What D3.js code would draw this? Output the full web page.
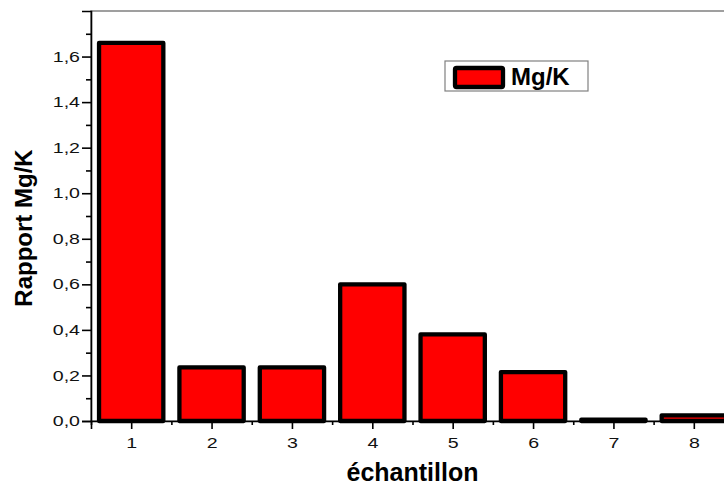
<!DOCTYPE html>
<html>
<head>
<meta charset="utf-8">
<script src="https://cdn.jsdelivr.net/npm/d3@7"></script>
<style>
  body { margin: 0; background: #fff; }
  svg { display: block; font-family: "Liberation Sans", Arial, sans-serif; }
</style>
</head>
<body>
<svg id="chart" width="724" height="486"></svg>
<script>
const categories = [1, 2, 3, 4, 5, 6, 7, 8]
const values = [1.66, 0.235, 0.235, 0.6, 0.38, 0.215, 0.006, 0.025]
const yMajorTicks = [0, 0.2, 0.4, 0.6, 0.8, 1.0, 1.2, 1.4, 1.6]
const yMinorTicks = [0.1, 0.3, 0.5, 0.7, 0.9, 1.1, 1.3, 1.5, 1.7]
const xMinorTicks = [0.5, 1.5, 2.5, 3.5, 4.5, 5.5, 6.5, 7.5]
const seriesName = "Mg/K"
const xTitle = "échantillon"
const yTitle = "Rapport Mg/K"

const margins = { top: 11, left: 91, bottom: 65 }
const svg = d3.select("#chart")
const height = 486 - margins.top - margins.bottom

let xRange = d3.scaleLinear()
    .domain([0.5, 8.5])
    .range([margins.left, margins.left + 643])
let yRange = d3.scaleLinear()
    .domain([0, 1.8])
    .range([margins.top + height, margins.top])

const barWidth = 0.8
const commaFormat = d => d3.format(".1f")(d).replace(".", ",")
// the tick labels of the original are drawn a bit wide
const STRETCH = 1.35

// frame (top and right) in grey
svg.append("rect")
    .attr("x", xRange(0.5))
    .attr("y", yRange(1.8))
    .attr("width", xRange(8.5) - xRange(0.5))
    .attr("height", yRange(0) - yRange(1.8))
    .attr("fill", "none")
    .attr("stroke", "#808080")
    .attr("stroke-width", 1.5)

// bars
svg.selectAll(".bar")
    .data(values)
    .enter()
    .append("rect")
    .attr("class", "bar")
    .attr("x", (d, i) => xRange(categories[i] - barWidth / 2))
    .attr("y", d => yRange(d))
    .attr("width", xRange(barWidth) - xRange(0))
    .attr("height", d => yRange(0) - yRange(d))
    .attr("fill", "#ff0000")
    .attr("stroke", "#000")
    .attr("stroke-width", 4.3)
    .attr("stroke-linejoin", "round")

// y axis
let yAxis = d3.axisLeft(yRange)
    .tickValues(yMajorTicks)
    .tickFormat(commaFormat)
    .tickSize(9)
    .tickPadding(2)
let yAxisMinor = d3.axisLeft(yRange)
    .tickValues(yMinorTicks)
    .tickFormat("")
    .tickSize(5)

svg.append("g")
    .attr("transform", "translate(" + margins.left + ",0)")
    .call(yAxisMinor)
    .call(g => g.select(".domain").remove())
svg.append("g")
    .attr("class", "y_axis")
    .attr("transform", "translate(" + margins.left + ",0)")
    .call(yAxis)
    .attr("font-size", 14.5)
    .attr("font-family", "Liberation Sans, Arial, sans-serif")

// x axis
let xAxis = d3.axisBottom(xRange)
    .tickValues(categories)
    .tickFormat(d => d)
    .tickSize(8)
    .tickPadding(9)
let xAxisMinor = d3.axisBottom(xRange)
    .tickValues(xMinorTicks)
    .tickFormat("")
    .tickSize(4)

svg.append("g")
    .attr("transform", "translate(0," + yRange(0) + ")")
    .call(xAxisMinor)
    .call(g => g.select(".domain").remove())
svg.append("g")
    .attr("class", "x_axis")
    .attr("transform", "translate(0," + yRange(0) + ")")
    .call(xAxis)
    .attr("font-size", 14.5)
    .attr("font-family", "Liberation Sans, Arial, sans-serif")

svg.selectAll(".domain").attr("stroke-width", 1.6).attr("stroke", "#000")
svg.selectAll(".tick line").attr("stroke-width", 1.6)
svg.selectAll(".tick text")
    .attr("fill", "#111")
    .each(function () {
        const t = d3.select(this)
        const x = +t.attr("x") || 0
        t.attr("x", 0).attr("transform", "translate(" + x + ",0) scale(" + STRETCH + ",1)")
    })

// titles
svg.append("text")
    .attr("x", (xRange(0.5) + xRange(8.5)) / 2)
    .attr("y", 481)
    .attr("text-anchor", "middle")
    .attr("font-size", 25)
    .attr("font-weight", "bold")
    .text(xTitle)

svg.append("text")
    .attr("transform", "translate(32," + 228 + ") rotate(-90)")
    .attr("text-anchor", "middle")
    .attr("font-size", 24)
    .attr("font-weight", "bold")
    .text(yTitle)

// legend
const legend = svg.append("g").attr("transform", "translate(445,61)")
legend.append("rect")
    .attr("width", 143)
    .attr("height", 30)
    .attr("fill", "#fff")
    .attr("stroke", "#808080")
    .attr("stroke-width", 1.2)
legend.append("rect")
    .attr("x", 10)
    .attr("y", 7)
    .attr("width", 48)
    .attr("height", 19)
    .attr("rx", 1.5)
    .attr("fill", "#ff0000")
    .attr("stroke", "#000")
    .attr("stroke-width", 4.3)
    .attr("stroke-linejoin", "round")
legend.append("text")
    .attr("x", 66)
    .attr("y", 24)
    .attr("font-size", 24)
    .attr("font-weight", "bold")
    .text(seriesName)
</script>
</body>
</html>
